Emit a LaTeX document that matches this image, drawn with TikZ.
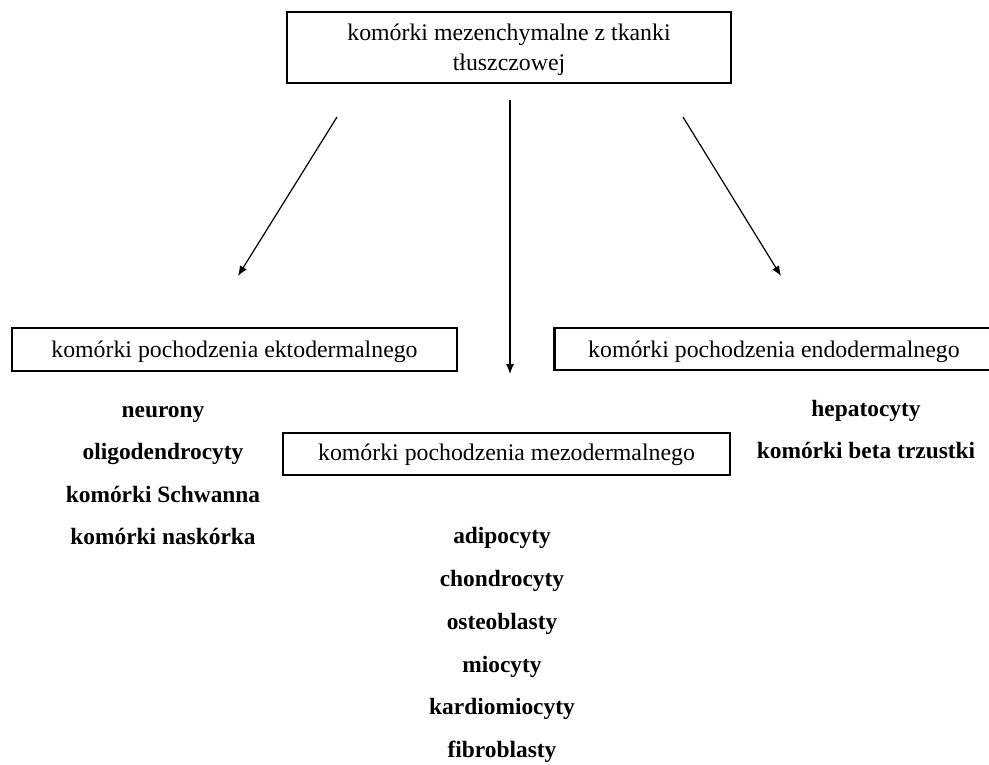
\documentclass[tikz,border=0pt]{standalone}
\usepackage{fontspec}
\setmainfont{Liberation Serif}
\usetikzlibrary{arrows.meta}
\begin{document}
\begin{tikzpicture}[x=1pt,y=-1pt,
  boxnode/.style={draw=black,line width=2.9pt,inner sep=0pt,align=center,
    font=\fontsize{23.8}{30}\selectfont},
  itemnode/.style={inner sep=0pt,anchor=base,font=\fontsize{23.4}{28}\selectfont\bfseries},
  arr/.style={line width=1.2pt,-{Latex[length=10pt,width=8pt]}}]
\useasboundingbox (0,0) rectangle (989,764);
\node[boxnode,minimum width=444pt,minimum height=71pt,text height=50pt,text depth=5pt] (top) at (509,47.5)
  {komórki mezenchymalne z tkanki\\tłuszczowej};
\node[boxnode,minimum width=445pt,minimum height=43pt,text height=17pt,text depth=2pt] (ekto) at (234.5,349.5)
  {komórki pochodzenia ektodermalnego};
\node[boxnode,minimum width=445pt,minimum height=42pt,text height=18pt,text depth=2pt,anchor=west] (endo) at (553,349)
  {\hspace*{-6pt}komórki pochodzenia endodermalnego};
\node[boxnode,minimum width=447pt,minimum height=42pt,text height=17pt,text depth=5pt] (mezo) at (506.5,454)
  {komórki pochodzenia mezodermalnego};
% lists
\node[itemnode] (e1) at (163,417) {neurony};
\node[itemnode] (e2) at (163,459.5) {oligodendrocyty};
\node[itemnode] (e3) at (163,502) {komórki Schwanna};
\node[itemnode] (e4) at (163,544.5) {komórki naskórka};
\node[itemnode] (n1) at (866,416) {hepatocyty};
\node[itemnode] (n2) at (866,458) {komórki beta trzustki};
\node[itemnode] (m1) at (502,543) {adipocyty};
\node[itemnode] (m2) at (502,586) {chondrocyty};
\node[itemnode] (m3) at (502,629) {osteoblasty};
\node[itemnode] (m4) at (502,672) {miocyty};
\node[itemnode] (m5) at (502,714.5) {kardiomiocyty};
\node[itemnode] (m6) at (502,757) {fibroblasty};
% arrows
\coordinate (la) at (337,117);
\coordinate (lb) at (238,276);
\coordinate (ra) at (683,117);
\coordinate (rb) at (781,276);
\coordinate (ma) at (510,100);
\coordinate (mb) at (510,374);
\draw[arr] (la) -- (lb);
\draw[arr] (ra) -- (rb);
\draw[arr] (ma) -- (mb);
\end{tikzpicture}
\end{document}
